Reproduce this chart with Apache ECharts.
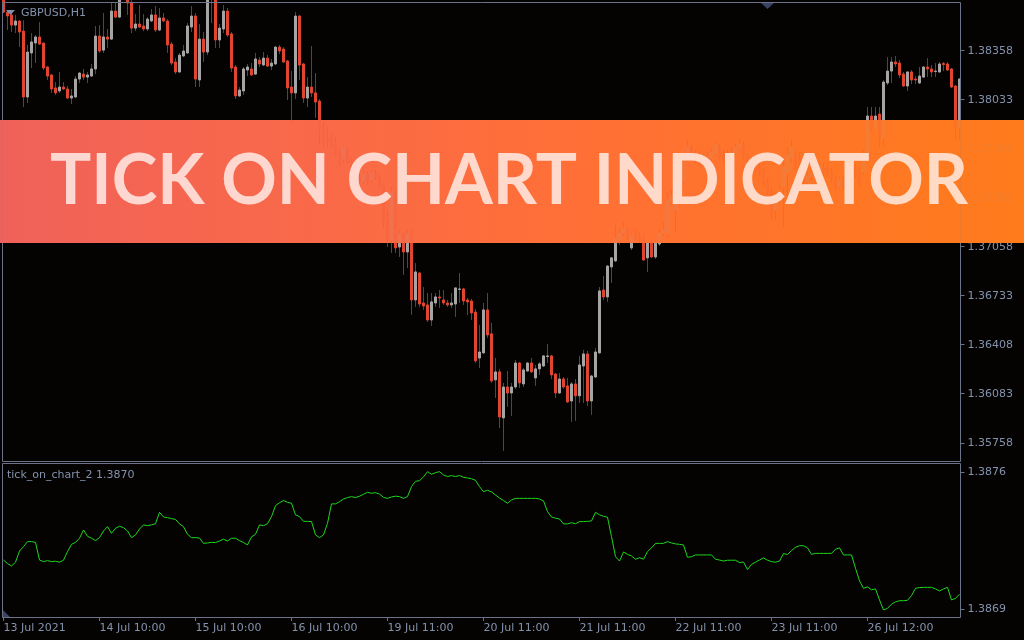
<!DOCTYPE html>
<html><head><meta charset="utf-8">
<script src="https://cdn.jsdelivr.net/npm/echarts@6.0.0/dist/echarts.min.js"></script>
<style>html,body{margin:0;padding:0;background:#050202;}#chart{width:1024px;height:640px;}</style>
</head><body><div id="chart"></div>
<script>
const opens = [1.38694,1.38614,1.38595,1.38528,1.38555,1.38488,1.38051,1.38343,1.38409,1.38449,
1.38409,1.38250,1.38197,1.38111,1.38091,1.38117,1.38104,1.38044,1.38051,1.38170,
1.38203,1.38183,1.38190,1.38237,1.38455,1.38362,1.38449,1.38435,1.38621,1.38581,
1.38747,1.38727,1.38674,1.38508,1.38535,1.38522,1.38502,1.38555,1.38595,1.38495,
1.38575,1.38555,1.38402,1.38283,1.38217,1.38323,1.38343,1.38515,1.38588,1.38164,
1.38435,1.38349,1.38760,1.38787,1.38429,1.38502,1.38621,1.38469,1.38250,1.38058,
1.38091,1.38230,1.38237,1.38203,1.38296,1.38263,1.38309,1.38256,1.38270,1.38382,
1.38369,1.38290,1.38117,1.38078,1.38588,1.38270,1.38044,1.38117,1.38078,1.38024,
1.37832,1.37772,1.37766,1.37746,1.37673,1.37640,1.37700,1.37620,1.37593,1.37514,
1.37494,1.37540,1.37501,1.37547,1.37521,1.37467,1.37235,1.37102,1.37421,1.37056,
1.37143,1.37023,1.37143,1.36705,1.36884,1.36685,1.36672,1.36572,1.36685,1.36725,
1.36705,1.36685,1.36672,1.36678,1.36775,1.36778,1.36705,1.36698,1.36625,1.36320,
1.36354,1.36639,1.36480,1.36175,1.36228,1.35923,1.36128,1.36088,1.36128,1.36287,
1.36148,1.36234,1.36287,1.36188,1.36248,1.36267,1.36330,1.36334,1.36214,1.36088,
1.36181,1.36135,1.36035,1.36148,1.36069,1.36267,1.36347,1.36035,1.36194,1.36354,
1.36771,1.36725,1.36924,1.36964,1.37102,1.37149,1.37176,1.37050,1.37136,1.37129,
1.37109,1.36984,1.37083,1.36990,1.37076,1.37149,1.37149,1.37355,1.37302,1.37395,
1.37487,1.37653,1.37719,1.37680,1.37666,1.37633,1.37620,1.37646,1.37680,1.37719,
1.37666,1.37633,1.37633,1.37680,1.37713,1.37739,1.37653,1.37633,1.37600,1.37580,
1.37567,1.37487,1.37421,1.37302,1.37368,1.37454,1.37547,1.37646,1.37680,1.37646,
1.37534,1.37487,1.37521,1.37534,1.37567,1.37587,1.37580,1.37554,1.37501,1.37454,
1.37501,1.37487,1.37521,1.37587,1.37554,1.37554,1.37666,1.37925,1.37839,1.37938,
1.37779,1.38144,1.38223,1.38283,1.38276,1.38203,1.38124,1.38217,1.38170,1.38144,
1.38183,1.38250,1.38237,1.38220,1.38217,1.38273,1.38270,1.38237,1.38124,1.37845];

const closes = [1.38614,1.38588,1.38528,1.38555,1.38482,1.38051,1.38349,1.38416,1.38449,1.38402,
1.38243,1.38190,1.38104,1.38078,1.38117,1.38104,1.38044,1.38058,1.38170,1.38210,
1.38183,1.38197,1.38237,1.38455,1.38356,1.38449,1.38435,1.38621,1.38581,1.38747,
1.38727,1.38674,1.38508,1.38535,1.38515,1.38502,1.38568,1.38595,1.38495,1.38575,
1.38555,1.38396,1.38276,1.38217,1.38329,1.38356,1.38522,1.38588,1.38170,1.38435,
1.38349,1.38760,1.38793,1.38429,1.38508,1.38621,1.38462,1.38243,1.38058,1.38097,
1.38237,1.38250,1.38197,1.38303,1.38270,1.38309,1.38256,1.38276,1.38382,1.38356,
1.38283,1.38111,1.38078,1.38588,1.38263,1.38044,1.38117,1.38078,1.38018,1.37832,
1.37766,1.37759,1.37746,1.37666,1.37600,1.37719,1.37620,1.37567,1.37514,1.37487,
1.37540,1.37487,1.37547,1.37521,1.37461,1.37235,1.37116,1.37421,1.37050,1.37143,
1.37023,1.37143,1.36705,1.36891,1.36678,1.36665,1.36572,1.36692,1.36725,1.36718,
1.36685,1.36672,1.36685,1.36785,1.36778,1.36698,1.36692,1.36619,1.36301,1.36360,
1.36639,1.36473,1.36168,1.36228,1.35929,1.36128,1.36088,1.36128,1.36287,1.36155,
1.36241,1.36287,1.36228,1.36248,1.36281,1.36334,1.36334,1.36208,1.36088,1.36181,
1.36128,1.36029,1.36148,1.36069,1.36274,1.36347,1.36035,1.36201,1.36360,1.36765,
1.36725,1.36930,1.36984,1.37109,1.37149,1.37176,1.37123,1.37136,1.37123,1.37102,
1.36970,1.37083,1.36990,1.37083,1.37149,1.37169,1.37368,1.37395,1.37467,1.37501,
1.37620,1.37719,1.37680,1.37646,1.37633,1.37613,1.37653,1.37686,1.37733,1.37653,
1.37633,1.37666,1.37686,1.37719,1.37739,1.37653,1.37613,1.37580,1.37567,1.37547,
1.37481,1.37421,1.37282,1.37355,1.37434,1.37587,1.37666,1.37719,1.37587,1.37580,
1.37487,1.37527,1.37547,1.37567,1.37600,1.37547,1.37547,1.37501,1.37454,1.37501,
1.37454,1.37534,1.37587,1.37527,1.37481,1.37673,1.37925,1.37839,1.37925,1.37779,
1.38150,1.38223,1.38283,1.38270,1.38197,1.38124,1.38217,1.38164,1.38164,1.38190,
1.38250,1.38237,1.38217,1.38223,1.38270,1.38266,1.38230,1.38117,1.37845,1.38170];

const highs = [1.38727,1.38621,1.38608,1.38595,1.38561,1.38561,1.38396,1.38475,1.38462,1.38548,
1.38409,1.38256,1.38203,1.38150,1.38217,1.38150,1.38124,1.38104,1.38190,1.38217,
1.38237,1.38217,1.38270,1.38522,1.38528,1.38608,1.38502,1.38674,1.38674,1.38774,
1.38827,1.38760,1.38727,1.38601,1.38661,1.38601,1.38581,1.38634,1.38654,1.38641,
1.38608,1.38568,1.38416,1.38309,1.38343,1.38396,1.38541,1.38654,1.38608,1.38535,
1.38482,1.38827,1.38860,1.38827,1.38535,1.38661,1.38641,1.38482,1.38263,1.38117,
1.38250,1.38270,1.38276,1.38343,1.38316,1.38349,1.38329,1.38303,1.38389,1.38396,
1.38382,1.38296,1.38223,1.38614,1.38595,1.38276,1.38183,1.38389,1.38210,1.38038,
1.37885,1.37852,1.37812,1.37786,1.37700,1.37733,1.37713,1.37646,1.37633,1.37567,
1.37567,1.37560,1.37567,1.37567,1.37540,1.37481,1.37302,1.37454,1.37434,1.37169,
1.37156,1.37169,1.37182,1.36950,1.36891,1.36791,1.36751,1.36751,1.36751,1.36771,
1.36771,1.36705,1.36751,1.36785,1.36884,1.36785,1.36718,1.36712,1.36645,1.36539,
1.36685,1.36751,1.36553,1.36320,1.36248,1.36155,1.36234,1.36155,1.36307,1.36294,
1.36254,1.36294,1.36320,1.36274,1.36294,1.36340,1.36413,1.36340,1.36221,1.36221,
1.36194,1.36188,1.36161,1.36181,1.36334,1.36374,1.36367,1.36208,1.36387,1.36791,
1.36864,1.36937,1.36990,1.37202,1.37182,1.37222,1.37196,1.37149,1.37169,1.37156,
1.37129,1.37089,1.37102,1.37102,1.37182,1.37222,1.37414,1.37434,1.37633,1.37600,
1.37666,1.37766,1.37746,1.37700,1.37693,1.37666,1.37686,1.37713,1.37753,1.37739,
1.37700,1.37700,1.37713,1.37746,1.37766,1.37753,1.37680,1.37653,1.37633,1.37613,
1.37580,1.37514,1.37448,1.37414,1.37467,1.37633,1.37719,1.37766,1.37700,1.37686,
1.37567,1.37554,1.37567,1.37587,1.37620,1.37613,1.37600,1.37580,1.37527,1.37521,
1.37527,1.37567,1.37613,1.37607,1.37580,1.37700,1.37985,1.37985,1.37985,1.37985,
1.38164,1.38316,1.38316,1.38323,1.38296,1.38217,1.38223,1.38230,1.38190,1.38250,
1.38256,1.38309,1.38263,1.38276,1.38283,1.38283,1.38283,1.38243,1.38130,1.38177];

const lows = [1.38608,1.38495,1.38482,1.38475,1.38382,1.37985,1.38011,1.38243,1.38276,1.38396,
1.38230,1.38164,1.38078,1.38064,1.38078,1.38097,1.38038,1.38004,1.38044,1.38144,
1.38164,1.38144,1.38183,1.38203,1.38343,1.38343,1.38376,1.38429,1.38575,1.38575,
1.38701,1.38595,1.38475,1.38488,1.38508,1.38488,1.38488,1.38548,1.38482,1.38488,
1.38548,1.38343,1.38263,1.38203,1.38210,1.38316,1.38336,1.38482,1.38117,1.38117,
1.38283,1.38329,1.38541,1.38376,1.38376,1.38475,1.38449,1.38217,1.38038,1.38051,
1.38064,1.38190,1.38190,1.38197,1.38250,1.38256,1.38250,1.38230,1.38263,1.38336,
1.38276,1.38031,1.37885,1.38038,1.38164,1.38011,1.37985,1.38051,1.37912,1.37733,
1.37719,1.37719,1.37713,1.37653,1.37587,1.37613,1.37607,1.37554,1.37467,1.37461,
1.37474,1.37467,1.37481,1.37501,1.37441,1.37182,1.37056,1.37017,1.37017,1.36990,
1.36871,1.36917,1.36606,1.36659,1.36659,1.36639,1.36559,1.36533,1.36659,1.36652,
1.36672,1.36659,1.36652,1.36592,1.36685,1.36672,1.36606,1.36572,1.36287,1.36254,
1.36347,1.36453,1.36155,1.36055,1.35856,1.35704,1.35996,1.35936,1.36115,1.36122,
1.36128,1.36228,1.36221,1.36135,1.36208,1.36261,1.36287,1.36181,1.36055,1.36082,
1.36115,1.36022,1.35896,1.35903,1.36022,1.36022,1.36002,1.35943,1.36188,1.36347,
1.36705,1.36692,1.36818,1.36957,1.37070,1.37129,1.37102,1.37037,1.37102,1.37083,
1.36964,1.36891,1.36984,1.36977,1.37063,1.37129,1.37123,1.37335,1.37149,1.37335,
1.37467,1.37633,1.37646,1.37613,1.37600,1.37593,1.37600,1.37633,1.37660,1.37640,
1.37613,1.37620,1.37613,1.37666,1.37700,1.37633,1.37593,1.37560,1.37547,1.37527,
1.37461,1.37401,1.37235,1.37235,1.37335,1.37189,1.37368,1.37620,1.37567,1.37560,
1.37467,1.37467,1.37501,1.37514,1.37547,1.37527,1.37521,1.37481,1.37434,1.37441,
1.37434,1.37461,1.37501,1.37514,1.37461,1.37534,1.37646,1.37819,1.37826,1.37719,
1.37719,1.38130,1.38144,1.38250,1.38177,1.38117,1.38091,1.38137,1.38137,1.38137,
1.38177,1.38183,1.38183,1.38183,1.38210,1.38223,1.38223,1.38111,1.37766,1.37766];

const indicatorValues = [1.387152,1.387134,1.387122,1.387141,1.387198,1.387220,1.387246,1.387246,1.387242,1.387152,
1.387144,1.387149,1.387144,1.387146,1.387141,1.387151,1.387195,1.387232,1.387242,1.387263,
1.387305,1.387273,1.387263,1.387251,1.387266,1.387300,1.387322,1.387288,1.387314,1.387324,
1.387317,1.387300,1.387266,1.387280,1.387310,1.387331,1.387327,1.387331,1.387337,1.387395,
1.387371,1.387368,1.387363,1.387359,1.387336,1.387322,1.387283,1.387266,1.387266,1.387264,
1.387237,1.387239,1.387242,1.387241,1.387249,1.387258,1.387249,1.387263,1.387263,1.387251,
1.387241,1.387229,1.387270,1.387283,1.387331,1.387327,1.387337,1.387373,1.387429,1.387444,
1.387455,1.387446,1.387441,1.387382,1.387373,1.387349,1.387349,1.387348,1.387280,1.387266,
1.387280,1.387339,1.387438,1.387438,1.387449,1.387463,1.387470,1.387475,1.387470,1.387477,
1.387487,1.387497,1.387492,1.387495,1.387488,1.387471,1.387466,1.387473,1.387477,1.387475,
1.387466,1.387475,1.387526,1.387553,1.387556,1.387575,1.387602,1.387589,1.387597,1.387602,
1.387585,1.387577,1.387582,1.387577,1.387582,1.387573,1.387570,1.387566,1.387558,1.387526,
1.387500,1.387507,1.387499,1.387483,1.387468,1.387455,1.387441,1.387458,1.387466,1.387466,
1.387466,1.387466,1.387466,1.387466,1.387463,1.387453,1.387399,1.387371,1.387365,1.387361,
1.387336,1.387336,1.387342,1.387337,1.387348,1.387348,1.387349,1.387351,1.387395,1.387382,
1.387375,1.387370,1.387271,1.387169,1.387147,1.387193,1.387181,1.387173,1.387156,1.387164,
1.387156,1.387195,1.387214,1.387237,1.387237,1.387237,1.387246,1.387239,1.387234,1.387232,
1.387229,1.387166,1.387169,1.387178,1.387178,1.387178,1.387178,1.387178,1.387156,1.387152,
1.387147,1.387151,1.387151,1.387151,1.387139,1.387142,1.387103,1.387130,1.387141,1.387152,
1.387163,1.387151,1.387144,1.387141,1.387147,1.387185,1.387180,1.387200,1.387217,1.387225,
1.387225,1.387214,1.387181,1.387186,1.387186,1.387186,1.387186,1.387186,1.387207,1.387214,
1.387178,1.387178,1.387178,1.387110,1.387046,1.387008,1.387015,1.387001,1.387005,1.386949,
1.386898,1.386906,1.386927,1.386939,1.386945,1.386945,1.386947,1.386971,1.387008,1.387012,
1.387013,1.387013,1.387013,1.387005,1.386995,1.387005,1.387013,1.386949,1.386957,1.386978];

const tickLabels = ['13 Jul 2021','14 Jul 10:00','15 Jul 10:00','16 Jul 10:00','19 Jul 11:00',
  '20 Jul 11:00','21 Jul 11:00','22 Jul 11:00','23 Jul 11:00','26 Jul 12:00'];
const priceTicks = [1.35758,1.36083,1.36408,1.36733,1.37058,1.37383,1.37708,1.38033,1.38358];
const indicatorTicks = [1.3869,1.3876];
const categories = opens.map((_, i) => String(i));

const AXIS_TXT = '#8393ad';
const BORDER = '#6c7388';
const FONT = 'DejaVu Sans';
const bannerText = 'TICK ON CHART INDICATOR';

const wickData = opens.map((o, i) => [o, closes[i], lows[i], highs[i]]);
const bodyData = opens.map((o, i) => [o, closes[i], Math.min(o, closes[i]), Math.max(o, closes[i])]);

const mctx = document.createElement('canvas').getContext('2d');
mctx.font = 'bold 70px Lato';
const textW = mctx.measureText(bannerText).width;
const sx = 918 / textW;

function bannerFill() {
  return new echarts.graphic.LinearGradient(0, 0, 1, 0, [
    {offset: 0, color: '#f0615a'},
    {offset: 0.3, color: '#f96949'},
    {offset: 0.55, color: '#ff6f37'},
    {offset: 1, color: '#ff7b1b'}
  ]);
}

const chart = echarts.init(document.getElementById('chart'), null, {renderer: 'canvas'});
chart.setOption({
  backgroundColor: '#050202',
  animation: false,
  grid: [
    {left: 1.5, top: 2, width: 960, height: 459},
    {left: 1.5, top: 464, width: 960, height: 153}
  ],
  xAxis: [
    {type: 'category', gridIndex: 0, data: categories, boundaryGap: true,
     axisLine: {show: false}, axisTick: {show: false}, axisLabel: {show: false}, splitLine: {show: false}},
    {type: 'category', gridIndex: 1, data: categories, boundaryGap: true,
     axisLine: {show: false},
     axisTick: {show: true, alignWithLabel: true, interval: 23, length: 4, lineStyle: {color: BORDER, width: 1}},
     axisLabel: {show: true, interval: 23, align: 'left', margin: 6, color: AXIS_TXT, fontFamily: FONT, fontSize: 11,
       formatter: (v, idx) => tickLabels[idx / 24] || ''},
     splitLine: {show: false}}
  ],
  yAxis: [
    {type: 'value', gridIndex: 0, position: 'right', offset: -1, min: 1.35637, max: 1.38681,
     splitLine: {show: false}, axisLine: {show: false},
     axisTick: {show: true, customValues: priceTicks, length: 4, lineStyle: {color: BORDER}},
     axisLabel: {show: true, customValues: priceTicks, margin: 7, color: AXIS_TXT, fontFamily: FONT, fontSize: 11,
       formatter: v => v.toFixed(5)}},
    {type: 'value', gridIndex: 1, position: 'right', offset: -1, min: 1.386862, max: 1.387641,
     splitLine: {show: false}, axisLine: {show: false},
     axisTick: {show: true, customValues: indicatorTicks, length: 4, lineStyle: {color: BORDER}},
     axisLabel: {show: true, customValues: indicatorTicks, margin: 7, color: AXIS_TXT, fontFamily: FONT, fontSize: 11,
       formatter: v => v.toFixed(4)}}
  ],
  series: [
    {type: 'candlestick', xAxisIndex: 0, yAxisIndex: 0, data: wickData, barWidth: 1, clip: true,
     itemStyle: {color: '#4a4a4a', color0: '#4a4a4a', borderColor: '#4a4a4a', borderColor0: '#4a4a4a', borderWidth: 1}},
    {type: 'candlestick', xAxisIndex: 0, yAxisIndex: 0, data: bodyData, barWidth: 2, clip: true,
     itemStyle: {color: '#a5a5a5', color0: '#e2452f', borderColor: '#a5a5a5', borderColor0: '#e2452f', borderWidth: 1}},
    {type: 'line', xAxisIndex: 1, yAxisIndex: 1, data: indicatorValues, showSymbol: false, symbol: 'none',
     lineStyle: {color: '#1fd61f', width: 1}, clip: true}
  ],
  graphic: {elements: [
    {type: 'rect', z: -5, shape: {x: 0, y: 120, width: 1024, height: 123}, style: {fill: bannerFill()}},
    {type: 'rect', z: 20, silent: true, shape: {x: 2.5, y: 2.5, width: 958, height: 459}, style: {fill: null, stroke: BORDER, lineWidth: 1}},
    {type: 'rect', z: 20, silent: true, shape: {x: 2.5, y: 463.5, width: 958, height: 154}, style: {fill: null, stroke: BORDER, lineWidth: 1}},
    {type: 'polygon', z: 21, shape: {points: [[6, 10], [15, 10], [10.5, 15]]}, style: {fill: '#8090a8'}},
    {type: 'polygon', z: 21, shape: {points: [[761, 3], [774, 3], [767.5, 9]]}, style: {fill: '#3b4262'}},
    {type: 'polygon', z: 21, shape: {points: [[3, 610], [3, 617], [10, 617]]}, style: {fill: '#3b4262'}},
    {type: 'text', z: 21, style: {x: 21, y: 13, text: 'GBPUSD,H1', fill: AXIS_TXT, font: '11px "DejaVu Sans"', verticalAlign: 'middle'}},
    {type: 'text', z: 21, style: {x: 7, y: 475, text: 'tick_on_chart_2 1.3870', fill: AXIS_TXT, font: '11px "DejaVu Sans"', verticalAlign: 'middle'}},
    {type: 'rect', z: 50, silent: true, shape: {x: 0, y: 120, width: 1024, height: 123}, style: {fill: bannerFill(), opacity: 0.88}},
    {type: 'text', z: 51, x: 509, y: 181, scaleX: sx, scaleY: 1, silent: true,
     style: {x: 0, y: 0, text: bannerText, font: 'bold 70px Lato', fill: 'rgba(255,244,240,0.8)', align: 'center', verticalAlign: 'middle'}}
  ]}
});
</script>
</body></html>
